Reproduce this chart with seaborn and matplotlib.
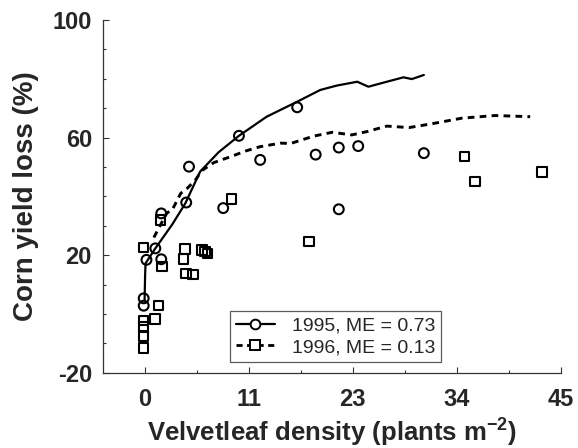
import numpy as np
import pandas as pd
import matplotlib
matplotlib.use("Agg")
import matplotlib.pyplot as plt
from matplotlib.lines import Line2D
from matplotlib.ticker import MultipleLocator, FixedLocator
import seaborn as sns

# ---- data ----
x_1995 = [16.5, 10.2, 4.8, 4.5, 8.5, 12.5, 18.5, 21.0, 23.1, 30.2, 21.0, 1.8, 1.16, 0.2, 1.8, -0.1, -0.1]
y_1995 = [70.3, 60.6, 50.1, 37.9, 36.0, 52.4, 54.2, 56.6, 57.1, 54.7, 35.6, 34.2, 22.3, 18.4, 18.6, 5.3, 2.8]

x_1996 = [9.4, 1.7, -0.1, 4.4, 4.2, 6.2, 6.5, 6.8, 1.9, 4.5, 5.2, 1.5, 1.1, -0.1, -0.1, -0.1, -0.1, 17.8, 34.6, 35.7, 43.0]
y_1996 = [39.1, 31.9, 22.6, 22.0, 18.7, 21.8, 21.3, 20.6, 16.1, 13.8, 13.4, 2.9, -1.7, -2.2, -4.4, -7.5, -11.7, 24.6, 53.5, 45.0, 48.2]

fit_x_1995 = [0.0, 0.05, 0.1, 1.16, 3.0, 4.4, 6.0, 8.0, 10.2, 13.2, 16.5, 19.0, 20.8, 23.0, 24.2, 26.2, 28.0, 28.9, 30.2]
fit_y_1995 = [4.8, 12.7, 17.2, 22.3, 30.5, 37.6, 48.4, 55.0, 60.6, 67.1, 72.2, 76.2, 77.7, 79.0, 77.3, 79.0, 80.5, 79.9, 81.3]

fit_x_1996 = [1.0, 1.5, 2.4, 3.0, 3.4, 3.9, 4.6, 5.5, 6.2, 7.5, 9.3, 11.0, 12.5, 14.7, 15.8, 18.3, 20.3, 22.4, 24.0, 26.2, 28.6, 30.9, 34.3, 37.9, 41.7]
fit_y_1996 = [26.0, 29.0, 34.3, 35.5, 37.9, 41.0, 42.7, 45.6, 48.8, 51.5, 53.5, 55.5, 56.9, 58.1, 58.0, 60.5, 61.8, 60.9, 62.0, 63.9, 63.4, 64.6, 66.6, 67.5, 67.1]

x_ticks = [0, 11.25, 22.5, 33.75, 45]
x_tick_labels = ["0", "11", "23", "34", "45"]
y_ticks = [-20, 20, 60, 100]

sns.set_style("ticks")
plt.rcParams['font.family'] = ['Liberation Sans', 'DejaVu Sans']
plt.rcParams['axes.unicode_minus'] = False
plt.rcParams['mathtext.fontset'] = 'custom'
plt.rcParams['mathtext.rm'] = 'Liberation Sans'
plt.rcParams['mathtext.bf'] = 'Liberation Sans:bold'

fig = plt.figure(figsize=(5.78, 4.48), dpi=100)
ax = fig.add_axes([103 / 578, 1 - 372.7 / 448, (560.7 - 103) / 578, (372.7 - 20) / 448])

df95 = pd.DataFrame({"x": x_1995, "y": y_1995})
df96 = pd.DataFrame({"x": x_1996, "y": y_1996})
f95 = pd.DataFrame({"x": fit_x_1995, "y": fit_y_1995})
f96 = pd.DataFrame({"x": fit_x_1996, "y": fit_y_1996})

sns.lineplot(data=f95, x="x", y="y", ax=ax, color="black", lw=1.6, sort=False, zorder=2)
sns.lineplot(data=f96, x="x", y="y", ax=ax, color="black", lw=2.1, sort=False, zorder=2)
ax.lines[-1].set_dashes((2.3, 1.8))

sns.scatterplot(data=df95, x="x", y="y", ax=ax, marker="o", s=50, facecolor="none",
                edgecolor="black", linewidth=1.5, zorder=3)
sns.scatterplot(data=df96, x="x", y="y", ax=ax, marker="s", s=48, facecolor="none",
                edgecolor="black", linewidth=1.5, zorder=3)

ax.set_xlim(-4.5, 45)
ax.set_ylim(-20, 100)
ax.set_xticks(x_ticks)
ax.set_xticklabels(x_tick_labels)
ax.xaxis.set_minor_locator(FixedLocator([5.625, 16.875, 28.125, 39.375]))
ax.set_yticks(y_ticks)
ax.yaxis.set_minor_locator(MultipleLocator(10))

for sp in ["top", "right"]:
    ax.spines[sp].set_visible(False)
for sp in ["left", "bottom"]:
    ax.spines[sp].set_linewidth(0.9)
    ax.spines[sp].set_color("#333333")

ax.tick_params(axis="both", which="major", direction="in", length=4, width=0.8, color="#333333")
ax.tick_params(axis="both", which="minor", direction="in", length=2, width=0.8, color="#333333")
ax.tick_params(axis="x", which="major", pad=11, labelsize=17)
ax.tick_params(axis="y", which="major", pad=8, labelsize=17)
for lab in ax.get_xticklabels() + ax.get_yticklabels():
    lab.set_fontweight("bold")

ax.set_xlabel("Velvetleaf density (plants m$^{\\mathbf{-2}}$)", fontsize=18.5, fontweight="bold", labelpad=3)
ax.set_ylabel("Corn yield loss (%)", fontsize=20, fontweight="bold", labelpad=10)

handles = [
    Line2D([0], [0], color="black", lw=1.6, marker="o", markersize=7, markerfacecolor="white",
           markeredgecolor="black", markeredgewidth=1.4),
    Line2D([0], [0], color="black", lw=2.0, dashes=(2.2, 1.6), marker="s", markersize=7,
           markerfacecolor="white", markeredgecolor="black", markeredgewidth=1.4),
]
leg = ax.legend(handles, ["1995, ME = 0.73", "1996, ME = 0.13"], loc="lower left",
                bbox_to_anchor=(0.2775, 0.03), borderaxespad=0, fontsize=14, frameon=True,
                fancybox=False, edgecolor="#333333", handlelength=2.0, handletextpad=0.9,
                labelspacing=0.2, borderpad=0.3)
leg.get_frame().set_linewidth(0.9)

fig.savefig("out.png", dpi=100)
